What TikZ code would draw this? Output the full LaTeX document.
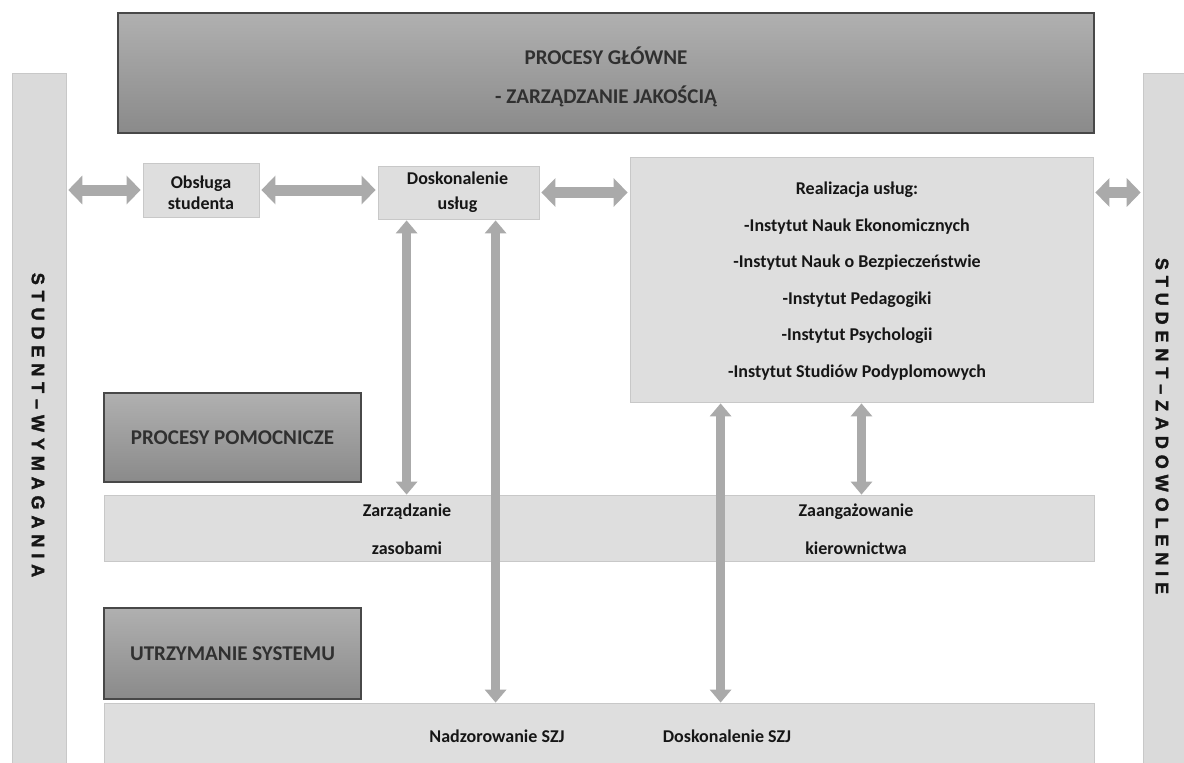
\documentclass[tikz,border=0pt]{standalone}
\usepackage{fontspec}
\setmainfont{Carlito}
\newfontfamily\barfont{Liberation Sans}[UprightFont={* Bold}, UprightFeatures={FakeBold=2}]
\usetikzlibrary{arrows.meta,calc}
\definecolor{boxdarkA}{RGB}{176,176,176}
\definecolor{boxdarkB}{RGB}{138,138,138}
\definecolor{boxedge}{RGB}{72,72,72}
\definecolor{boxlight}{RGB}{222,222,222}
\definecolor{lightedge}{RGB}{200,200,200}
\definecolor{barfill}{RGB}{218,218,218}
\definecolor{arrowgray}{RGB}{170,170,170}
\definecolor{txt}{RGB}{22,22,22}
\definecolor{titletxt}{RGB}{48,48,48}
\newcommand{\ls}{\hspace{5.9pt}}
\begin{document}
\begin{tikzpicture}[x=1pt,y=-1pt,
  darkbox/.style={draw=boxedge, line width=1.6pt, top color=boxdarkA, bottom color=boxdarkB, inner sep=0pt},
  lightbox/.style={draw=lightedge, line width=0.8pt, fill=boxlight, inner sep=0pt},
  sidebar/.style={draw=lightedge, line width=0.6pt, fill=barfill, inner sep=0pt},
  lbl/.style={text=txt, font=\fontsize{18}{21}\selectfont\bfseries, align=center, inner sep=0pt},
  hdr/.style={text=titletxt, font=\fontsize{21}{39}\selectfont\bfseries, align=center, inner sep=0pt},
  bartxt/.style={text=txt, font=\barfont\fontsize{18}{20}\selectfont, inner sep=0pt, rotate=-90},
  harrow/.style={draw=arrowgray, line width=11pt, {Triangle[width=28pt,length=14pt]}-{Triangle[width=28pt,length=14pt]}},
  varrow/.style={draw=arrowgray, line width=9pt, {Triangle[width=21pt,length=13pt]}-{Triangle[width=21pt,length=13pt]}}
]
\useasboundingbox (0,0) rectangle (1184,763);
\clip (0,0) rectangle (1184,763);
\fill[white] (0,0) rectangle (1184,763);

% top box
\node[darkbox, minimum width=976, minimum height=120] (top) at (606,73) {};
\node[hdr] (toptitle) at (606,77) {PROCESY GŁÓWNE\\- ZARZĄDZANIE JAKOŚCIĄ};

% side bars
\node[sidebar, minimum width=54, minimum height=700] (lbar) at (39,423) {};
\node[sidebar, minimum width=52, minimum height=700] (rbar) at (1169,423) {};
\node[bartxt] (ltxt) at (38,425) {S\ls T\ls U\ls D\ls E\ls N\ls T\ls –\ls W\ls Y\ls M\ls A\ls G\ls A\ls N\ls I\ls A};
\node[bartxt] (rtxt) at (1162,426) {S\ls T\ls U\ls D\ls E\ls N\ls T\ls –\ls Z\ls A\ls D\ls O\ls W\ls O\ls L\ls E\ls N\ls I\ls E};

% upper row
\node[lightbox, minimum width=116, minimum height=54] (obs) at (201,190) {};
\node[lbl] (obstxt) at (201,192.5) {Obsługa\\studenta};
\node[lightbox, minimum width=161, minimum height=53] (dosk) at (458.5,192.5) {};
\node[lbl, font=\fontsize{18}{25}\selectfont\bfseries] (dosktxt) at (457.5,192.5) {Doskonalenie\\usług};
\node[lightbox, minimum width=463, minimum height=245] (real) at (861.5,279.5) {};
\node[lbl, font=\fontsize{18}{36.5}\selectfont\bfseries] (realtxt) at (857,281) {Realizacja usług:\\-Instytut Nauk Ekonomicznych\\-Instytut Nauk o Bezpieczeństwie\\-Instytut Pedagogiki\\-Instytut Psychologii\\-Instytut Studiów Podyplomowych};

% support processes
\node[darkbox, minimum width=257, minimum height=89] (pom) at (232.5,437.5) {};
\node[hdr] (pomtxt) at (232.5,438) {PROCESY POMOCNICZE};
\node[lightbox, minimum width=990, minimum height=66] (band2) at (599,528) {};
\node[lbl, font=\fontsize{18}{38.5}\selectfont\bfseries] (zarz) at (407,529) {Zarządzanie\\zasobami};
\node[lbl, font=\fontsize{18}{38.5}\selectfont\bfseries] (zaan) at (856,529) {Zaangażowanie\\kierownictwa};

% system maintenance
\node[darkbox, minimum width=257, minimum height=91] (utrz) at (232.5,653.5) {};
\node[hdr] (utrztxt) at (232.5,654) {UTRZYMANIE SYSTEMU};
\node[lightbox, minimum width=990, minimum height=80] (band3) at (599,743) {};
\node[lbl] (nadz) at (497,736) {Nadzorowanie SZJ};
\node[lbl] (dszj) at (727,736) {Doskonalenie SZJ};

% horizontal arrows
\draw[harrow] ([xshift=2]lbar.east |- obs.west) -- ([xshift=-2]obs.west);
\draw[harrow] ([xshift=2]obs.east) -- ([xshift=-2]obs.east -| dosk.west);
\draw[harrow] ([xshift=2]dosk.east) -- ([xshift=-2]dosk.east -| real.west);
\draw[harrow] ([xshift=2]real.east |- dosk.east) -- ([xshift=-2]rbar.west |- dosk.east);

% vertical arrows
\coordinate (va) at ($(dosk.south west)+(29,1)$);
\coordinate (vb) at ($(dosk.south west)+(118,1)$);
\coordinate (vc) at ($(real.south west)+(91,1)$);
\coordinate (vd) at ($(real.south)+(0,1)$);
\draw[varrow] (va) -- (va |- band2.north);
\draw[varrow] (vd) -- (vd |- band2.north);
\draw[varrow] (vb) -- (vb |- band3.north);
\draw[varrow] (vc) -- (vc |- band3.north);
\end{tikzpicture}
\end{document}
